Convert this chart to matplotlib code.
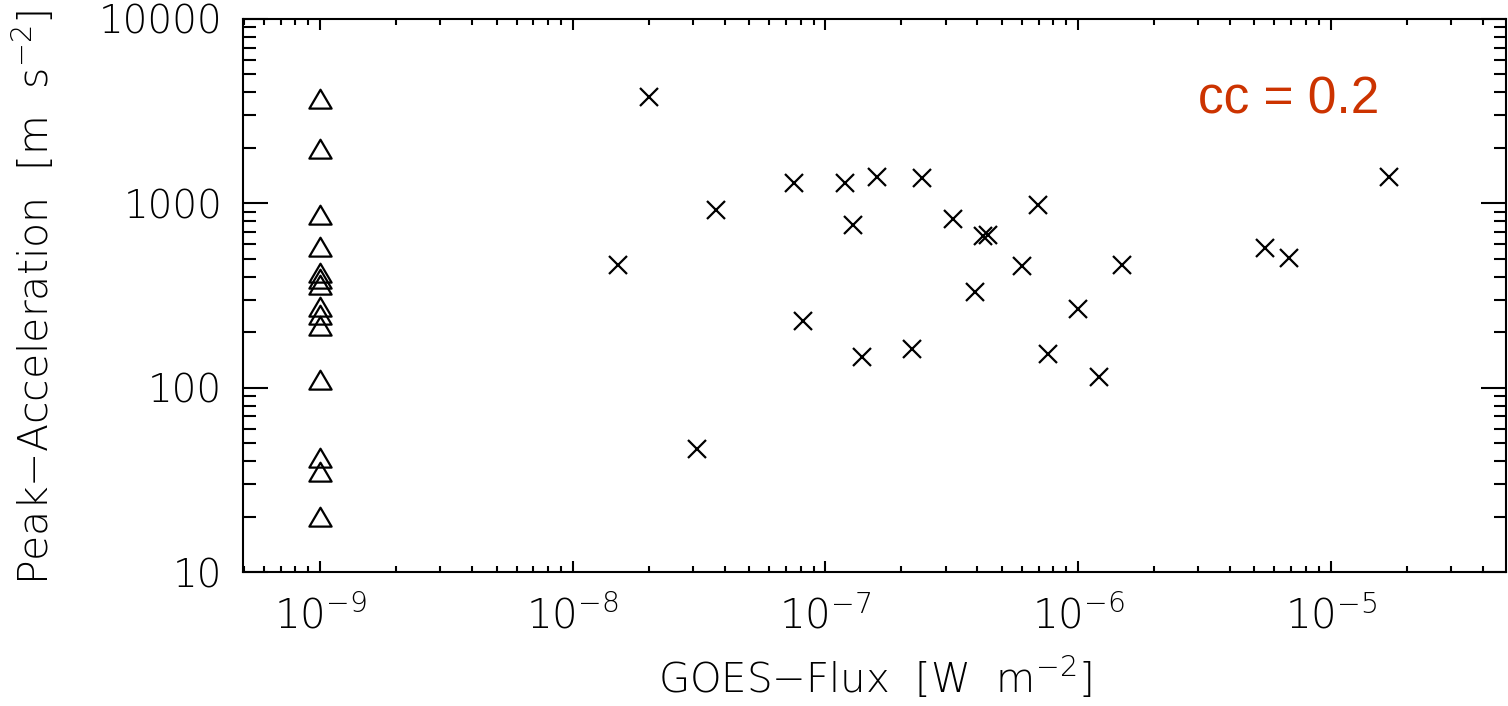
import numpy as np
import matplotlib
matplotlib.use('Agg')
import matplotlib.pyplot as plt
from matplotlib import font_manager
from matplotlib.path import Path
from matplotlib.ticker import LogLocator, FixedLocator, NullFormatter, FuncFormatter

# Events without a GOES flare, plotted at the 1e-9 floor
no_flare_flux = [1e-9] * 14
no_flare_acc = [3670, 1960, 865, 577, 419, 388, 360, 274, 248, 216, 110, 41.5, 34.8, 19.9]

# Events with an associated flare
flare_flux = [2.00e-8, 3.70e-8, 1.51e-8, 7.49e-8, 1.20e-7, 8.20e-8, 3.10e-8,
              1.61e-7, 2.41e-7, 1.29e-7, 3.21e-7, 4.21e-7, 4.42e-7, 6.97e-7,
              5.99e-7, 3.91e-7, 1.00e-6, 1.40e-7, 2.20e-7, 7.60e-7, 1.21e-6,
              1.50e-6, 5.52e-6, 6.82e-6, 1.71e-5]
flare_acc = [3790, 920, 463, 1284, 1289, 231, 46.3,
             1384, 1367, 763, 822, 667, 673, 979,
             457, 331, 267, 147, 162, 152, 114,
             463, 570, 507, 1384]

x_major = [1e-9, 1e-8, 1e-7, 1e-6, 1e-5]
y_major = [10, 100, 1000, 10000]
cc_label = 'cc = 0.2'


def pick_light_font():
    # look for a thin sans face, the original was drawn with a light font
    for fam in ['DejaVu Sans', 'Lato', 'Open Sans', 'Roboto', 'Noto Sans', 'Inter']:
        for f in font_manager.fontManager.ttflist:
            if f.name != fam or f.style != 'normal':
                continue
            w = f.weight
            if isinstance(w, str):
                w = font_manager.weight_dict.get(w, 400)
            if w <= 300:
                return fam, w
    return 'DejaVu Sans', 'normal'


fam, wt = pick_light_font()
plt.rcParams['font.family'] = [fam, 'DejaVu Sans']
plt.rcParams['font.weight'] = wt
plt.rcParams['mathtext.default'] = 'regular'
plt.rcParams['axes.unicode_minus'] = True

fig = plt.figure(figsize=(15.08, 7.06), dpi=100)
ax = fig.add_axes([243/1508, 1 - 572/706, 1263/1508, 553/706])

# IDL style open triangle, a bit wider than tall
tri = Path([(-1, -0.82), (1, -0.82), (0, 0.88), (-1, -0.82)],
           [Path.MOVETO, Path.LINETO, Path.LINETO, Path.CLOSEPOLY])

ax.plot(no_flare_flux, no_flare_acc, ls='none', marker=tri, ms=16,
        mfc='none', mec='black', mew=1.6)
ax.plot(flare_flux, flare_acc, ls='none', marker='x', ms=13.5,
        mec='black', mew=1.6)

ax.set_xscale('log')
ax.set_yscale('log')
ax.set_xlim(4.96e-10, 4.95e-5)
ax.set_ylim(10, 10000)

ax.xaxis.set_major_locator(FixedLocator(x_major))
ax.xaxis.set_minor_locator(LogLocator(base=10, subs=np.arange(2, 10), numticks=50))
ax.xaxis.set_major_formatter(FuncFormatter(lambda v, p: r'$\mathregular{10^{%d}}$' % round(np.log10(v))))
ax.xaxis.set_minor_formatter(NullFormatter())

ax.yaxis.set_major_locator(FixedLocator(y_major))
ax.yaxis.set_minor_locator(LogLocator(base=10, subs=np.arange(2, 10), numticks=50))
ax.yaxis.set_major_formatter(FuncFormatter(lambda v, p: '%d' % v))
ax.yaxis.set_minor_formatter(NullFormatter())

for s in ax.spines.values():
    s.set_linewidth(1.5)

ax.tick_params(axis='both', which='both', direction='in', top=True, right=True,
               width=1.5, labelsize=28)
ax.tick_params(axis='x', which='major', length=8, pad=17, labelsize=29)
ax.tick_params(axis='x', which='minor', length=4)
ax.tick_params(axis='y', which='major', length=18, pad=15)
ax.tick_params(axis='y', which='minor', length=9)

fig.text(874.5/1508, 1 - 678/706, r'GOES$-$Flux  [W  m$^{-2}$]',
         ha='center', va='center', fontsize=29)
fig.text(34/1508, 1 - 297/706, r'Peak$-$Acceleration  [m  s$^{-2}$]',
         ha='center', va='center', rotation=90, fontsize=29.5)

ax.text(0.756, 0.8535, cc_label, transform=ax.transAxes, ha='left', va='center',
        fontsize=37, color='#cc3300', family='Liberation Sans', weight='normal')

fig.savefig('out.png', dpi=100)
